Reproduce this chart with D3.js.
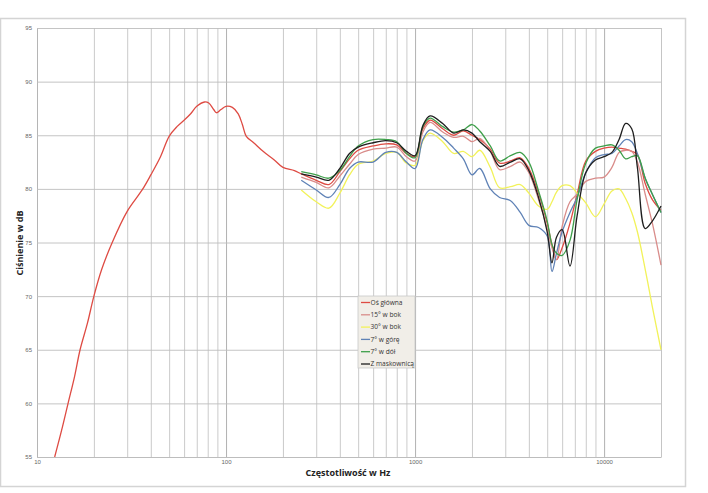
<!DOCTYPE html>
<html><head><meta charset="utf-8">
<script src="https://cdn.jsdelivr.net/npm/d3@7"></script>
<style>
body{margin:0;background:#fff;}
svg{display:block;font-family:"Open Sans","Liberation Sans",sans-serif;}
</style></head>
<body><svg id="c" width="708" height="493"></svg>
<script>
// ---- data ----
const freqLow = [12.4,13.5,14.6,15.8,16.9,18.5,20,22,25,30,36,40,45,50,55,60,65,70,77,81,86,89,94,100,108,116,122,128,140,157,180,200,230];
const osGlownaLow = [55.0,57.5,60.0,62.5,65.0,67.5,70.0,72.5,75.0,77.9,79.9,81.3,83.0,84.9,85.8,86.4,87.0,87.7,88.1,88.0,87.4,87.1,87.4,87.7,87.6,87.0,86.0,84.9,84.3,83.5,82.7,82.0,81.7];

const freqHz = [250,300,350,400,450,500,600,700,800,900,1000,1100,1200,1400,1600,1800,2000,2200,2500,2800,3200,3600,4000,4500,5000,5300,5600,6000,6600,7200,8000,9000,10000,11000,12000,13000,14000,15000,16500,18000,20000];
const osGlowna   = [81.4,80.8,80.4,81.6,82.8,83.6,84.0,84.2,84.1,83.3,83.0,85.6,86.4,85.6,85.0,85.4,85.0,84.6,83.7,82.4,82.6,82.9,81.9,79.6,76.8,74.8,73.4,74.5,76.8,79.5,82.6,83.5,83.8,83.9,83.8,83.7,83.5,83.2,80.5,79.0,78.0];
const bok15      = [81.1,80.6,80.1,81.2,82.3,83.2,83.7,83.8,83.9,83.0,82.6,85.3,86.2,85.3,84.8,84.9,84.4,84.7,83.5,81.8,82.1,82.5,81.5,79.0,76.3,74.5,73.4,76.5,78.8,79.5,80.7,81.0,81.1,82.0,83.4,83.6,83.5,82.5,79.5,76.8,72.9];
const bok30      = [79.9,78.8,78.2,79.6,81.3,82.3,82.6,83.3,83.4,82.4,82.2,84.5,85.2,84.4,83.3,83.5,83.0,83.6,82.0,80.1,80.2,80.4,79.6,78.4,78.1,78.8,79.7,80.3,80.3,79.6,78.7,77.4,78.6,79.8,80.0,79.1,77.8,76.0,72.5,69.0,65.0];
const gora7      = [80.8,79.9,79.2,80.4,81.9,82.5,82.5,83.4,83.4,82.5,81.9,84.6,85.5,84.8,83.8,82.8,81.3,81.9,80.0,79.2,78.9,77.8,76.6,76.4,75.6,72.3,74.0,76.0,77.8,79.2,81.5,82.9,83.2,83.3,84.0,84.6,84.4,83.3,81.0,79.5,77.8];
const dol7       = [81.6,81.3,81.0,81.7,83.0,84.0,84.6,84.6,84.4,83.3,82.9,85.8,86.6,85.8,85.3,85.5,86.0,85.4,84.0,82.6,83.1,83.4,82.5,79.8,77.0,74.8,74.0,73.8,75.2,79.0,82.4,83.8,84.0,84.1,83.6,82.8,83.0,83.1,81.0,79.5,77.8];
const maskownica = [81.4,81.1,80.8,81.9,83.3,83.9,84.3,84.5,84.3,83.5,83.1,85.9,86.8,86.1,85.2,85.5,85.2,84.4,83.5,82.1,82.5,82.8,81.7,79.2,76.0,73.1,75.5,76.2,72.8,77.5,81.5,82.7,83.0,83.4,84.6,86.1,85.6,82.0,76.3,77.0,78.4];

const seriesNames = ["Oś główna","15° w bok","30° w bok","7° w górę","7° w dół","Z maskownicą"];
const seriesColors = ["#de4b43","#d98c8a","#f2f25a","#5f82b6","#3e9f4a","#1e1e1e"];
const yTicks = [55,60,65,70,75,80,85,90,95];
const xLabelTicks = [10,100,1000,10000];
const xTitle = "Częstotliwość w Hz";
const yTitle = "Ciśnienie w dB";

// ---- chart ----
const svg = d3.select("#c");
const L = 37, R = 661, T = 28, B = 457;
const x = d3.scaleLog().domain([10,20000]).range([L,R]);
const y = d3.scaleLinear().domain([55,95]).range([B,T]);

// frame
svg.append("rect").attr("x",0.5).attr("y",18.5).attr("width",685).attr("height",468)
  .attr("fill","#fff").attr("stroke","#d4d4d4").attr("stroke-width",1.5);

// vertical grid ticks
const xGridVals = [];
for (let d of [10,100,1000,10000]) for (let k=1;k<=9;k++){ const v=d*k; if(v<=20000) xGridVals.push(v); }
xGridVals.push(20000);
const xAxis = d3.axisBottom(x).tickValues(xGridVals).tickSize(-(B-T)).tickSizeOuter(0)
  .tickFormat(d => xLabelTicks.includes(d) ? String(d) : "");
const gx = svg.append("g").attr("transform",`translate(0,${B})`).call(xAxis);
gx.select(".domain").attr("stroke","#b5b5b5");
gx.selectAll(".tick line").attr("stroke",d => xLabelTicks.includes(d) && d>10 ? "#a8a8a8" : "#c4c4c4").attr("stroke-width",0.9);
gx.selectAll(".tick text").attr("fill","#666").attr("font-size",6).attr("dy",4);

const yAxis = d3.axisLeft(y).tickValues(yTicks).tickSize(-(R-L)).tickSizeOuter(0).tickFormat(d3.format("d"));
const gy = svg.append("g").attr("transform",`translate(${L},0)`).call(yAxis);
gy.select(".domain").attr("stroke","#b5b5b5");
gy.selectAll(".tick line").attr("stroke","#bdbdbd").attr("stroke-width",0.9);
gy.selectAll(".tick text").attr("fill","#666").attr("font-size",6).attr("x",-5);

// axis titles
svg.append("text").attr("x",348).attr("y",476).attr("text-anchor","middle")
  .attr("font-size",9).attr("font-weight","bold").attr("fill","#222").text(xTitle);
svg.append("text").attr("transform","translate(23,243) rotate(-90)").attr("text-anchor","middle")
  .attr("font-size",9).attr("font-weight","bold").attr("fill","#222").text(yTitle);

// lines
const line = d3.line().x(d=>x(d[0])).y(d=>y(d[1])).curve(d3.curveCatmullRom.alpha(0.5));
const mainPts = freqLow.map((f,i)=>[f,osGlownaLow[i]]).concat(freqHz.map((f,i)=>[f,osGlowna[i]]));
const others = [bok15,bok30,gora7,dol7,maskownica].map(arr => freqHz.map((f,i)=>[f,arr[i]]));
const allSeries = [mainPts, ...others];
allSeries.forEach((pts,i)=>{
  svg.append("path").datum(pts).attr("d",line).attr("fill","none")
    .attr("stroke",seriesColors[i]).attr("stroke-width",1.3).attr("stroke-linejoin","round");
});

// legend
const lg = svg.append("g").attr("transform","translate(358,296)");
lg.append("rect").attr("width",57).attr("height",72).attr("fill","#f1eee8").attr("stroke","#c8c8c8").attr("stroke-width",0.8);
seriesNames.forEach((n,i)=>{
  const yy = 6.5 + i*12.3;
  lg.append("line").attr("x1",3).attr("x2",12).attr("y1",yy).attr("y2",yy)
    .attr("stroke",seriesColors[i]).attr("stroke-width",1.3);
  lg.append("text").attr("x",12.5).attr("y",yy+2.3).attr("font-size",6.6).attr("fill","#333").text(n);
});
</script></body></html>
